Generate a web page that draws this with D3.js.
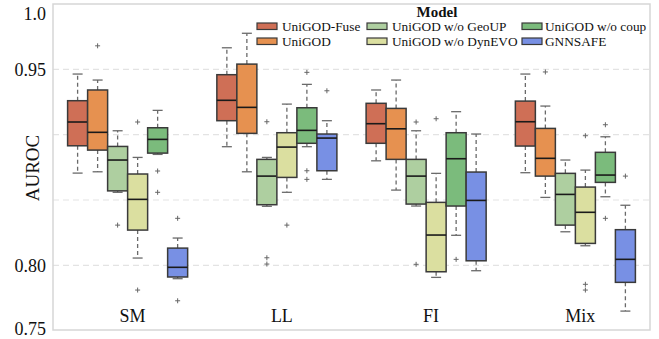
<!DOCTYPE html>
<html><head><meta charset="utf-8">
<script src="https://cdn.jsdelivr.net/npm/d3@7"></script>
<style>body{margin:0;background:#fff}svg{display:block}text{font-family:"Liberation Serif","Times New Roman",serif}</style>
</head><body><svg id="c" width="659" height="339"></svg>
<script>
const categories = ["SM", "LL", "FI", "Mix"];
const models = ["UniGOD-Fuse", "UniGOD", "UniGOD w/o GeoUP", "UniGOD w/o DynEVO", "UniGOD w/o coup", "GNNSAFE"];
const colors = ["#cf6f56", "#e69150", "#aecfa0", "#dbdfa0", "#7bbb7c", "#7890e4"];
const yTicks = [1.0, 0.95, 0.80, 0.75];
const yTickLabels = ["1.0", "0.95", "0.80", "0.75"];
const gridValues = [0.95, 0.90, 0.85, 0.80];

// [lower whisker, q1, median, q3, upper whisker] per category (SM, LL, FI, Mix)
const fuseStats   = [[0.8706,0.8915,0.9097,0.926,0.9464],[0.8908,0.9107,0.9263,0.9459,0.9665],[0.880,0.8934,0.9084,0.924,0.9342],[0.8709,0.8913,0.9099,0.9257,0.9464]];
const unigodStats = [[0.8716,0.8882,0.9018,0.9342,0.9418],[0.8716,0.901,0.9209,0.954,0.9776],[0.8576,0.8811,0.9045,0.9201,0.9418],[0.852,0.8683,0.8819,0.9048,0.9219]];
const geoupStats  = [[0.8559,0.857,0.8806,0.891,0.903],[0.8452,0.8464,0.8683,0.8811,0.8826],[0.8454,0.8469,0.8683,0.8811,0.903],[0.8257,0.8308,0.8543,0.8704,0.8806]];
const dynevoStats = [[0.8056,0.827,0.8505,0.8699,0.8826],[0.8559,0.8673,0.8905,0.9015,0.9234],[0.7908,0.7951,0.8232,0.8482,0.8704],[0.815,0.8168,0.8406,0.8599,0.8729]];
const coupStats   = [[0.8849,0.8859,0.8964,0.9053,0.9186],[0.8908,0.8934,0.9033,0.9206,0.9385],[0.823,0.8454,0.8816,0.9015,0.9176],[0.8525,0.8635,0.8691,0.8865,0.8984]];
const gnnsafeStats= [[0.7898,0.7911,0.7985,0.8132,0.8209],[0.8658,0.8724,0.8974,0.9005,0.9107],[0.7959,0.8035,0.8497,0.8714,0.9005],[0.765,0.787,0.8046,0.8273,0.846]];

const fuseOut    = [[],[],[],[]];
const unigodOut  = [[0.968],[],[],[0.948]];
const geoupOut   = [[0.8308],[0.9099,0.8058,0.801],[0.9097,0.8008],[]];
const dynevoOut  = [[0.9097,0.7811],[0.8308],[0.9122],[0.8992,0.7855,0.7811]];
const coupOut    = [[0.8722,0.8559],[0.9477,0.8724,0.8658],[0.8046],[0.9076,0.836]];
const gnnsafeOut = [[0.836,0.7729],[0.9336],[],[0.8683]];

const allStats = [fuseStats, unigodStats, geoupStats, dynevoStats, coupStats, gnnsafeStats];
const allOut = [fuseOut, unigodOut, geoupOut, dynevoOut, coupOut, gnnsafeOut];

const svg = d3.select("#c");
const L = 53, R = 650, T = 4, B = 330.7;
const y = d3.scaleLinear().domain([0.75, 1.0]).range([B, T]);
const x0 = d3.scaleBand().domain(categories).range([L, R]).padding(0);
const x1 = d3.scaleBand().domain(models).range([0, x0.bandwidth()]).paddingInner(0).paddingOuter(0.73);
const color = d3.scaleOrdinal().domain(models).range(colors);

// grid
svg.append("g").selectAll("line").data(gridValues).join("line")
  .attr("x1", L).attr("x2", R).attr("y1", d => y(d)).attr("y2", d => y(d))
  .attr("stroke", "#e3e3e3").attr("stroke-width", 1.2).attr("stroke-dasharray", "6,4");

// frame
svg.append("rect").attr("x", L).attr("y", T).attr("width", R - L).attr("height", 326)
  .attr("fill", "none").attr("stroke", "#d6d6d6").attr("stroke-width", 1.5);

// y axis
const yAxis = d3.axisLeft(y).tickValues(yTicks).tickFormat((d, i) => yTickLabels[i]).tickSize(0).tickPadding(7);
const ga = svg.append("g").attr("transform", `translate(${L},0)`).call(yAxis);
ga.select(".domain").remove();
ga.selectAll("text").attr("font-size", 18).attr("fill", "#111")
  .attr("font-family", '"Liberation Serif","Times New Roman",serif')
  .attr("dy", (d) => d === 1.0 ? "0.85em" : (d === 0.75 ? "0.2em" : "0.33em"));

svg.append("text").attr("transform", "translate(39,168) rotate(-90)")
  .attr("text-anchor", "middle").attr("font-size", 19).attr("fill", "#111").text("AUROC");

// category labels
svg.append("g").selectAll("text").data(categories).join("text")
  .attr("x", d => x0(d) + x0.bandwidth() / 2 + 5).attr("y", 322)
  .attr("text-anchor", "middle").attr("font-size", 18).attr("fill", "#111").text(d => d);

// boxes
const bw = x1.bandwidth();
const capW = 10;
models.forEach((m, mi) => {
  categories.forEach((c, ci) => {
    const s = allStats[mi][ci];
    const cx = x0(c) + x1(m) + bw / 2;
    const g = svg.append("g");
    g.append("line").attr("x1", cx).attr("x2", cx).attr("y1", y(s[3])).attr("y2", y(s[4]))
      .attr("stroke", "#6a6a6a").attr("stroke-width", 1.3).attr("stroke-dasharray", "4,3");
    g.append("line").attr("x1", cx).attr("x2", cx).attr("y1", y(s[1])).attr("y2", y(s[0]))
      .attr("stroke", "#6a6a6a").attr("stroke-width", 1.3).attr("stroke-dasharray", "4,3");
    [s[0], s[4]].forEach(v => g.append("line").attr("x1", cx - capW / 2).attr("x2", cx + capW / 2)
      .attr("y1", y(v)).attr("y2", y(v)).attr("stroke", "#6a6a6a").attr("stroke-width", 1.3));
    g.append("rect").attr("x", x0(c) + x1(m)).attr("y", y(s[3])).attr("width", bw)
      .attr("height", y(s[1]) - y(s[3])).attr("fill", color(m))
      .attr("stroke", "#3a3a3a").attr("stroke-width", 1.5);
    g.append("line").attr("x1", x0(c) + x1(m)).attr("x2", x0(c) + x1(m) + bw)
      .attr("y1", y(s[2])).attr("y2", y(s[2])).attr("stroke", "#1a1a1a").attr("stroke-width", 1.6);
    allOut[mi][ci].forEach(v => {
      const py = y(v);
      g.append("path").attr("d", `M${cx - 2.5},${py}H${cx + 2.5}M${cx},${py - 2.5}V${py + 2.5}`)
        .attr("stroke", "#666").attr("stroke-width", 1);
    });
  });
});

// legend
const leg = svg.append("g");
leg.append("text").attr("x", 437).attr("y", 16.5).attr("text-anchor", "middle")
  .attr("font-size", 15).attr("font-weight", "bold").attr("fill", "#111").text("Model");
const colX = [257, 367, 522];
const textX = [282, 392, 545];
const rowBase = [31, 46];
models.forEach((m, i) => {
  const col = Math.floor(i / 2), row = i % 2;
  leg.append("rect").attr("x", colX[col]).attr("y", rowBase[row] - 8).attr("width", 20).attr("height", 6.5)
    .attr("fill", color(m)).attr("stroke", "#3a3a3a").attr("stroke-width", 1.2);
  leg.append("text").attr("x", textX[col]).attr("y", rowBase[row])
    .attr("font-size", 13.3).attr("fill", "#111").text(m);
});
</script></body></html>
